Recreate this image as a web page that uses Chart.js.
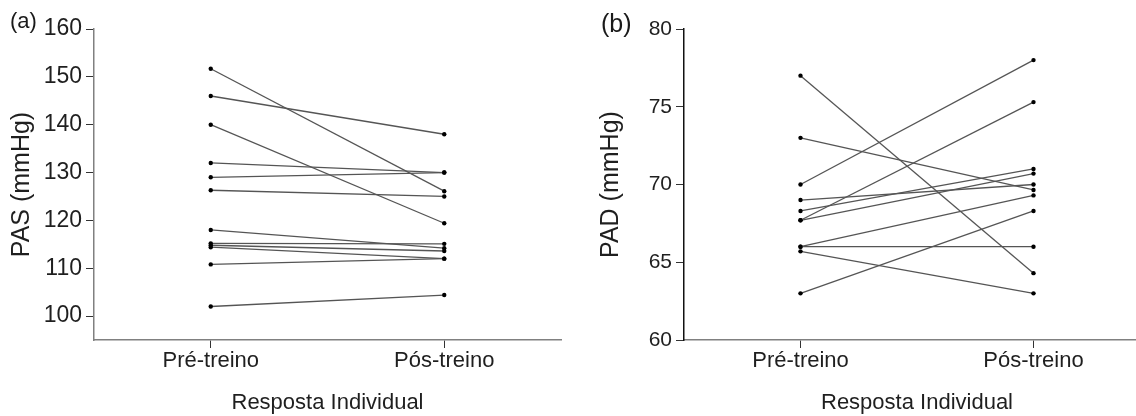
<!DOCTYPE html>
<html><head><meta charset="utf-8">
<script src="https://cdn.jsdelivr.net/npm/chart.js@4.4.1/dist/chart.umd.min.js"></script>
<style>
html,body{margin:0;padding:0;background:#fff;overflow:hidden;width:1136px;height:416px;}
#wrap{position:relative;width:1136px;height:416px;overflow:hidden;}
canvas{position:absolute;top:0;}
#ca{left:0;}
#cb{left:580px;}
.lbl{position:absolute;font-family:"Liberation Sans",Arial,sans-serif;color:#1a1a1a;line-height:1;}
</style></head><body>
<div id="wrap">
<canvas id="ca" width="575" height="416"></canvas>
<canvas id="cb" width="580" height="416"></canvas>
<div class="lbl" style="left:10px;top:10px;font-size:22px">(a)</div>
<div class="lbl" style="left:601px;top:11px;font-size:25px">(b)</div>
</div>
<script>
const categories = ['Pré-treino', 'Pós-treino'];
const pasPre = [151.7, 146, 140, 132, 129, 126.3, 118, 115.2, 114.8, 114.4, 110.8, 102];
const pasPos = [126.1, 138, 119.4, 130, 130, 125, 114.2, 115.1, 113.6, 112, 112, 104.4];
const pasTicks = [100, 110, 120, 130, 140, 150, 160];
const padPre = [77, 73, 70, 69, 68.3, 67.7, 67.7, 66, 66, 65.7, 63];
const padPos = [64.3, 69.65, 78, 70, 71, 75.3, 70.7, 66, 69.3, 63, 68.3];
const padTicks = [60, 65, 70, 75, 80];

const FONT = '"Liberation Sans", Arial, sans-serif';
const TXT = '#1f1f1f';

function makeChart(id, pre, pos, ticks, yMin, yMax, yTitle, cfg) {
  const datasets = pre.map((v, i) => ({
    data: [v, pos[i]],
    borderColor: '#555555',
    borderWidth: 1.3,
    pointRadius: 2.2,
    pointBackgroundColor: '#000',
    pointBorderWidth: 0,
    fill: false,
    tension: 0,
    clip: false
  }));
  return new Chart(document.getElementById(id), {
    type: 'line',
    data: { labels: categories, datasets },
    options: {
      responsive: false,
      animation: false,
      devicePixelRatio: 1,
      layout: { padding: { left: 0, right: cfg.padRight, top: 29, bottom: 0 } },
      plugins: { legend: { display: false }, tooltip: { enabled: false } },
      scales: {
        x: {
          type: 'category',
          offset: true,
          grid: { display: true, drawOnChartArea: false, drawTicks: true, tickLength: 8, tickColor: '#333', tickWidth: 1 },
          border: { display: true, color: '#808080', width: 1.5 },
          ticks: { font: { family: FONT, size: 22 }, color: TXT, padding: 0, maxRotation: 0 },
          title: { display: true, text: 'Resposta Individual', font: { family: FONT, size: 22 }, color: TXT, padding: { top: 0, bottom: 0 } },
          afterFit(s) { s.height = 76; }
        },
        y: {
          min: yMin,
          max: yMax,
          afterBuildTicks(s) { s.ticks = ticks.map(v => ({ value: v })); },
          grid: { display: true, drawOnChartArea: false, drawTicks: true, tickLength: 8, tickColor: '#333', tickWidth: 1 },
          border: { display: true, color: cfg.leftColor, width: 1.5 },
          ticks: { font: { family: FONT, size: cfg.yTickSize }, color: TXT, padding: 4 },
          title: { display: true, text: yTitle, font: { family: FONT, size: 25 }, color: TXT, padding: { top: cfg.titlePad, bottom: 0 } },
          afterFit(s) { s.width = cfg.axisW; }
        }
      }
    }
  });
}

makeChart('ca', pasPre, pasPos, pasTicks, 95, 160, 'PAS (mmHg)', { axisW: 94, padRight: 14, titlePad: 7, leftColor: '#808080', yTickSize: 23 });
makeChart('cb', padPre, padPos, padTicks, 60, 80, 'PAD (mmHg)', { axisW: 104, padRight: 10, titlePad: 16, leftColor: '#111', yTickSize: 21 });
</script>
</body></html>
